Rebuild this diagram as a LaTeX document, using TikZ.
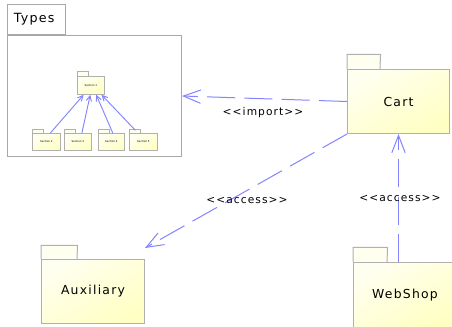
\documentclass[tikz,border=0pt]{standalone}
\usepackage{fontspec}
\setmainfont{DejaVu Sans}
\newfontfamily\labelfont[LetterSpace=10]{DejaVu Sans}
\usetikzlibrary{arrows.meta,calc}
\definecolor{pkgborder}{RGB}{176,176,176}
\definecolor{framegray}{RGB}{168,168,168}
\definecolor{pkglight}{RGB}{255,255,240}
\definecolor{pkgdark}{RGB}{255,255,196}
\definecolor{linkblue}{RGB}{132,132,255}
\tikzset{
  pkgbody/.style={draw=pkgborder, line width=0.75pt, top color=pkglight, bottom color=pkgdark,
    shading angle=30, inner sep=0pt, anchor=north west,
    font=\labelfont\fontsize{9.3}{11}\selectfont},
  pkgtab/.style={fill=pkglight, inner sep=0pt, anchor=south west},
  taboutline/.style={draw=pkgborder, line width=0.75pt},
  minibody/.style={draw=pkgborder, line width=0.6pt, top color=pkglight, bottom color=pkgdark,
    shading angle=30, inner sep=0pt, anchor=north west, font=\fontsize{2}{2}\selectfont},
  minitab/.style={fill=pkglight, inner sep=0pt, anchor=south west},
  minioutline/.style={draw=pkgborder, line width=0.6pt},
  frame/.style={draw=framegray, line width=0.75pt, fill=white, inner sep=0pt, anchor=north west},
  dep/.style={draw=linkblue, line width=0.75pt, dash pattern=on 21pt off 7pt,
    -{Straight Barb[length=13pt,width=10pt]}},
  minidep/.style={draw=linkblue, line width=0.7pt,
    -{Straight Barb[length=4pt,width=4pt]}},
  stereo/.style={font=\labelfont\fontsize{8}{9}\selectfont, inner sep=1pt}
}
\begin{document}
\begin{tikzpicture}[x=0.75pt,y=-0.75pt]
\useasboundingbox (0,0) rectangle (452,326);
\clip (0,0) rectangle (452,326);
\fill[white] (0,0) rectangle (452,326);

% Types package (frame)
\node[frame, minimum width=130.5pt, minimum height=90.75pt] (types) at (7,35) {};
\node[frame, anchor=south west, minimum width=43.5pt, minimum height=22.5pt,
  font=\labelfont\fontsize{9.5}{11}\selectfont, align=left, text width=40pt] (typestab) at (types.north west) {\hspace*{3pt}Types};

% inner packages
\node[minibody, minimum width=20.25pt, minimum height=13.5pt] (s1) at (77,76) {Section 1};
\node[minitab, minimum width=8.25pt, minimum height=3pt] (s1tab) at (s1.north west) {};
\draw[minioutline] (s1tab.south west) |- (s1tab.north east) -- (s1tab.south east);
\node[minibody, minimum width=21pt, minimum height=12.75pt] (s2) at (32,133) {Section 2};
\node[minitab, minimum width=8.25pt, minimum height=2.25pt] (s2tab) at (s2.north west) {};
\draw[minioutline] (s2tab.south west) |- (s2tab.north east) -- (s2tab.south east);
\node[minibody, minimum width=20.25pt, minimum height=12.75pt] (s3) at (64,133) {Section 3};
\node[minitab, minimum width=8.25pt, minimum height=2.25pt] (s3tab) at (s3.north west) {};
\draw[minioutline] (s3tab.south west) |- (s3tab.north east) -- (s3tab.south east);
\node[minibody, minimum width=19.5pt, minimum height=12.75pt] (s4) at (98,133) {Section 4};
\node[minitab, minimum width=8.25pt, minimum height=2.25pt] (s4tab) at (s4.north west) {};
\draw[minioutline] (s4tab.south west) |- (s4tab.north east) -- (s4tab.south east);
\node[minibody, minimum width=21pt, minimum height=12.75pt] (s5) at (129,133) {Section 5};
\node[minitab, minimum width=8.25pt, minimum height=2.25pt] (s5tab) at (s5.north west) {};
\draw[minioutline] (s5tab.south west) |- (s5tab.north east) -- (s5tab.south east);

\draw[minidep] ($(s2.north)+(3pt,0)$) -- ($(s1.south)+(-5.5pt,0)$);
\draw[minidep] ($(s3.north)+(3pt,0)$) -- ($(s1.south)+(-0.5pt,0)$);
\draw[minidep] ($(s4.north)+(1pt,0)$) -- ($(s1.south)+(4pt,0)$);
\draw[minidep] ($(s5.north)+(-6pt,2pt)$) -- ($(s1.south)+(8pt,0)$);

% Cart
\node[pkgbody, minimum width=76.5pt, minimum height=48pt] (cart) at (347,69) {Cart};
\node[pkgtab, minimum width=24.75pt, minimum height=10.5pt] (carttab) at ([yshift=0.4pt]cart.north west) {};
\draw[taboutline] (cart.north west) |- ([yshift=-0.4pt]carttab.north east) -- ([xshift=-0.4pt]cart.north west -| carttab.east);

% Auxiliary
\node[pkgbody, minimum width=77.25pt, minimum height=48pt] (aux) at (41,259) {Auxiliary};
\node[pkgtab, minimum width=27pt, minimum height=9.75pt] (auxtab) at ([yshift=0.4pt]aux.north west) {};
\draw[taboutline] (aux.north west) |- ([yshift=-0.4pt]auxtab.north east) -- ([xshift=-0.4pt]aux.north west -| auxtab.east);

% WebShop
\node[pkgbody, minimum width=77.25pt, minimum height=49.5pt] (web) at (353,262) {WebShop};
\node[pkgtab, minimum width=25.5pt, minimum height=10.5pt] (webtab) at ([yshift=0.4pt]web.north west) {};
\draw[taboutline] (web.north west) |- ([yshift=-0.4pt]webtab.north east) -- ([xshift=-0.4pt]web.north west -| webtab.east);

% dependencies
\draw[dep] (cart.west) -- (types.east);
\node[stereo] (imp) at (263,113) {<<import>>};

\draw[dep] (cart.south west) -- ($(aux.north east)+(0,8.25pt)$);
\node[stereo] (acc1) at (247,200) {<<access>>};

\draw[dep] (cart.south |- web.north) -- (cart.south);
\node[stereo] (acc2) at (400,198) {<<access>>};
\end{tikzpicture}
\end{document}
